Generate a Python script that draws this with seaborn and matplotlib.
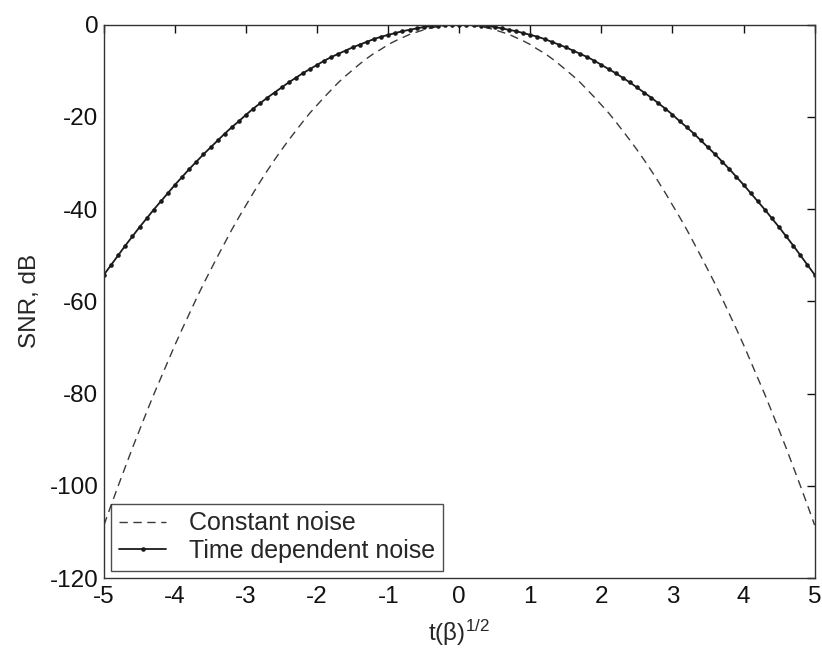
import matplotlib
matplotlib.use("Agg")
import matplotlib.pyplot as plt
import seaborn as sns
import pandas as pd

t_values = [round(-5 + 0.1 * i, 1) for i in range(101)]

time_dependent = [
    -54.2, -52.1, -50.0, -47.9, -45.9, -43.9, -42.0, -40.1, -38.3, -36.5,
    -34.7, -33.0, -31.3, -29.7, -28.1, -26.6, -25.1, -23.6, -22.2, -20.9,
    -19.5, -18.2, -17.0, -15.8, -14.7, -13.6, -12.5, -11.5, -10.5, -9.6,
    -8.7, -7.8, -7.0, -6.3, -5.6, -4.9, -4.3, -3.7, -3.1, -2.6,
    -2.2, -1.8, -1.4, -1.1, -0.8, -0.5, -0.3, -0.2, -0.1, 0.0,
    0.0,
    0.0, -0.1, -0.2, -0.3, -0.5, -0.8, -1.1, -1.4, -1.8, -2.2,
    -2.6, -3.1, -3.7, -4.3, -4.9, -5.6, -6.3, -7.0, -7.8, -8.7,
    -9.6, -10.5, -11.5, -12.5, -13.6, -14.7, -15.8, -17.0, -18.2, -19.5,
    -20.9, -22.2, -23.6, -25.1, -26.6, -28.1, -29.7, -31.3, -33.0, -34.7,
    -36.5, -38.3, -40.1, -42.0, -43.9, -45.9, -47.9, -50.0, -52.1, -54.2,
]

constant_noise = [
    -108.5, -104.2, -100.0, -95.9, -91.8, -87.9, -84.0, -80.2, -76.6, -73.0,
    -69.4, -66.0, -62.7, -59.4, -56.2, -53.2, -50.2, -47.3, -44.4, -41.7,
    -39.1, -36.5, -34.0, -31.6, -29.3, -27.1, -25.0, -23.0, -21.0, -19.1,
    -17.4, -15.7, -14.1, -12.5, -11.1, -9.8, -8.5, -7.3, -6.2, -5.3,
    -4.3, -3.5, -2.8, -2.1, -1.6, -1.1, -0.7, -0.4, -0.2, 0.0,
    0.0,
    0.0, -0.2, -0.4, -0.7, -1.1, -1.6, -2.1, -2.8, -3.5, -4.3,
    -5.3, -6.2, -7.3, -8.5, -9.8, -11.1, -12.5, -14.1, -15.7, -17.4,
    -19.1, -21.0, -23.0, -25.0, -27.1, -29.3, -31.6, -34.0, -36.5, -39.1,
    -41.7, -44.4, -47.3, -50.2, -53.2, -56.2, -59.4, -62.7, -66.0, -69.4,
    -73.0, -76.6, -80.2, -84.0, -87.9, -91.8, -95.9, -100.0, -104.2, -108.5,
]

x_ticks = [-5, -4, -3, -2, -1, 0, 1, 2, 3, 4, 5]
y_ticks = [0, -20, -40, -60, -80, -100, -120]

sns.set_style("white")
plt.rcParams["font.family"] = ["Liberation Sans", "DejaVu Sans"]
plt.rcParams["mathtext.default"] = "regular"
plt.rcParams["axes.unicode_minus"] = False

df_const = pd.DataFrame({"t": t_values, "snr": constant_noise})
df_time = pd.DataFrame({"t": t_values, "snr": time_dependent})

fig = plt.figure(figsize=(8.22, 6.51), dpi=100)
ax = fig.add_axes([0.1265, 0.112, 0.8645, 0.850])

sns.lineplot(data=df_const, x="t", y="snr", ax=ax, color="#3a3a3a",
             linewidth=1.0, dashes=False, label="Constant noise")
ax.lines[-1].set_dashes((6, 4))
sns.lineplot(data=df_time, x="t", y="snr", ax=ax, color="#1a1a1a",
             linewidth=1.3, marker="o", markersize=3.3, markeredgewidth=0,
             label="Time dependent noise")

ax.set_xlim(-5, 5)
ax.set_ylim(-120, 0)
ax.set_xticks(x_ticks)
ax.set_yticks(y_ticks)
ax.tick_params(direction="in", top=True, right=True, length=5.5, width=1,
               labelsize=17.5, colors="#111111")
ax.tick_params(axis="x", pad=6)
ax.tick_params(axis="y", pad=4)
for s in ax.spines.values():
    s.set_color("#333333")
    s.set_linewidth(1.0)

ax.set_xlabel("t(β)$^{1/2}$", fontsize=17.5, labelpad=7)
ax.set_ylabel("SNR, dB", fontsize=17.5, labelpad=6)

leg = ax.legend(loc="lower left", fontsize=18, frameon=True, fancybox=False,
                edgecolor="#222222", borderaxespad=0.3, handlelength=1.9,
                handletextpad=0.9, borderpad=0.3, labelspacing=0.15)
leg.get_frame().set_linewidth(1.0)

fig.savefig("out.png", dpi=100)
